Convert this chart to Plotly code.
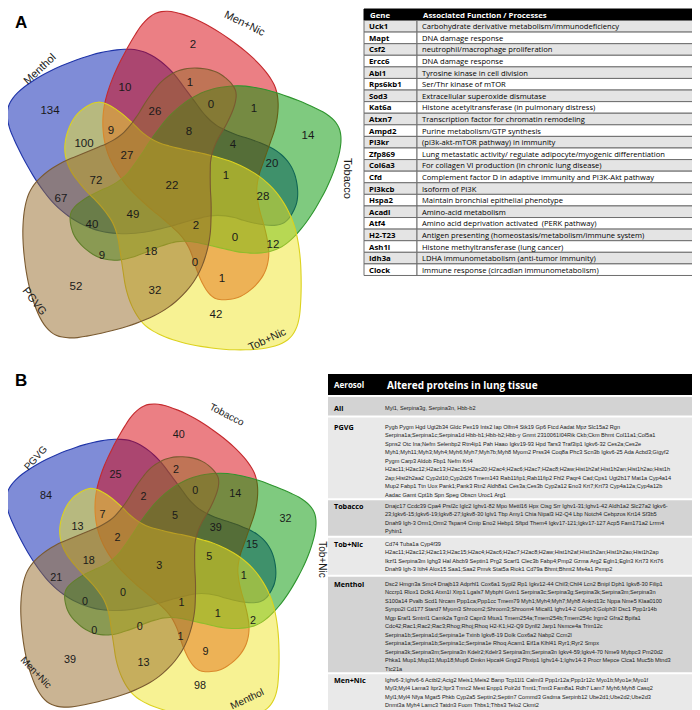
import math
import plotly.graph_objects as go

# ---------------- data ----------------
venn_a_sets = ["Menthol", "Men+Nic", "Tobacco", "Tob+Nic", "PGVG"]
venn_b_sets = ["PGVG", "Tobacco", "Tob+Nic", "Menthol", "Men+Nic"]
# counts per region (same region order for both diagrams)
venn_a_counts = [134, 2, 14, 42, 52, 10, 1, 0, 1, 26, 8, 4, 20, 9, 100, 27, 22, 1, 28,
                 72, 67, 49, 2, 0, 12, 40, 9, 18, 0, 1, 32]
venn_b_counts = [84, 40, 32, 98, 39, 25, 2, 0, 14, 2, 5, 39, 15, 7, 13, 2, 3, 5, 1,
                 18, 21, 0, 1, 1, 2, 0, 0, 0, 1, 9, 13]

genes = ["Uck1", "Mapt", "Csf2", "Ercc6", "Abl1", "Rps6kb1", "Sod3", "Kat6a", "Atxn7",
         "Ampd2", "Pi3kr", "Zfp869", "Col6a3", "Cfd", "Pi3kcb", "Hspa2", "Acadl", "Atf4",
         "H2-T23", "Ash1l", "Idh3a", "Clock"]
gene_functions = [
    "Carbohydrate derivative metabolism/immunodeficiency",
    "DNA damage response",
    "neutrophil/macrophage proliferation",
    "DNA damage response",
    "Tyrosine kinase in cell division",
    "Ser/Thr kinase of mTOR",
    "Extracellular superoxide dismutase",
    "Histone acetyltransferase (in pulmonary distress)",
    "Transcription factor for chromatin remodeling",
    "Purine metabolism/GTP synthesis",
    "(pi3k-akt-mTOR pathway) in immunity",
    "Lung metastatic activity/ regulate adipocyte/myogenic differentiation",
    "For collagen VI production (in chronic lung disease)",
    "Complement factor D in adaptive immunity and PI3K-Akt pathway",
    "Isoform of PI3K",
    "Maintain bronchial epithelial phenotype",
    "Amino-acid metabolism",
    "Amino acid deprivation activated  (PERK pathway)",
    "Antigen presenting (homeostasis/metabolism/immune system)",
    "Histone methyltransferase (lung cancer)",
    "LDHA immunometabolism (anti-tumor immunity)",
    "Immune response (circadian immunometabolism)",
]

aerosols = ["All", "PGVG", "Tobacco", "Tob+Nic", "Menthol", "Men+Nic"]
proteins_all = ["Myl1, Serpina3g, Serpina3n, Hbb-b2"]
proteins_pgvg = [
    "Pygb Pygm Hgd Ugt2b34 Gldc Pex19 Ints2 Iap Olfm4 Stk19 Gp6 Ftcd Aadat Mpz Slc15a2 Rgn",
    "Serpina1a;Serpina1c;Serpina1d Hbb-b1;Hbb-b2;Hbb-y Gnmt 2310061I04Rik Ckb;Ckm Bhmt Col11a1;Col5a1",
    "Spns2 Otc Ina;Nefm Selenbp2 Rtn4ip1 Pah Haao Igkv19-93 Hpd Tars3 Traf3ip1 Igkv6-32 Ces2a;Ces2e",
    "Myh1;Myh11;Myh3;Myh4;Myh6;Myh7;Myh7b;Myh8 Myom2 Prss34 Coq8a Phc3 Scn3b Igkv6-25 Ada Acbd3;Gigyf2",
    "Pygm Carp3 Aldob Fbp1 Nefm Krt4",
    "H2ac11;H2ac12;H2ac13;H2ac15;H2ac20;H2ac4;H2ac6;H2ac7;H2ac8;H2aw;Hist1h2af;Hist1h2an;Hist1h2ao;Hist1h",
    "2ap;Hist2h2aa2 Cyp2d10;Cyp2d26 Tmem143 Rab11fip1;Rab11fip2 Fhl2 Paqr4 Cad;Cps1 Ugt2b17 Mat1a Cyp4a14",
    "Mup2 Fabp1 Ttn Uox Pank1;Pank3 Rtn2 Aldh8a1 Ces3a;Ces3b Cyp2a12 Eno3 Krt7;Krt73 Cyp4a12a;Cyp4a12b",
    "Aadac Gamt Cpt1b Spn Speg Obscn Uroc1 Arg1",
]
proteins_tobacco = [
    "Dnajc17 Ccdc39 Cpa4 Prsl2c Iglc2 Ighv1-82 Mpo Mettl16 Hpx Ctsg Srr Ighv1-31;Ighv1-42 Aldh1a2 Slc27a2 Igkv6-",
    "23;Igkv6-15;Igkv6-19;Igkv8-27;Igkv8-30 Iglv1 Tbp Amy1 Chia Nipal3 H2-Q4 Lbp Notch4 Cebpzos Krt14 Sf3b5",
    "Dnah9 Igh-3 Orm1;Orm2 Tspan4 Cmip Eno2 Hebp1 Sftpd Them4 Igkv17-121;Igkv17-127 Acp5 Fam171a2 Lrrm4",
    "Pyhin1",
]
proteins_tobnic = [
    "Cd74 Tuba1a Cyp4f39",
    "H2ac11;H2ac12;H2ac13;H2ac15;H2ac4;H2ac6;H2ac7;H2ac8;H2aw;Hist1h2af;Hist1h2an;Hist1h2ao;Hist1h2ap",
    "Ikzf1 Serpina3m Ighg3 Hal Abcb9 Septin1 Prg2 Scarf1 Clec3b Fabp4;Pmp2 Gzma Arg2 Egln1;Egln3 Krt73 Krt76",
    "Dnah9 Igh-3 Itih4 Alox15 Saa1;Saa2 Pmvk Stat5a Riok1 Cd79a Bhmt;Bhmt2 Ms4a1 Pxmp2",
]
proteins_menthol = [
    "Dsc2 Hmgn3a Smc4 Dnajb13 Adprhl1 Cox6a1 Sypl2 Rp1 Igkv12-44 Chil3;Chil4 Lcn2 Bnipl Dph1 Igkv8-30 Filip1",
    "Nccrp1 Rlox1 Dclk1 Atxn1l Xirp1 Lgals7 Mybphl Gvin1 Serpina3c;Serpina3g;Serpina3k;Serpina3m;Serpina3n",
    "S100a14 Pvalb Scd1 Nrcam Ppp1ca;Ppp1cc Tmem79 Myh1;Myh4;Myh7;Myh8 Ankrd13c Nppa Nme5 Klaa0100",
    "Synpo2l Cd177 Stard7 Myom3 Shroom2;Shroom3;Shroom4 Micall1 Ighv14-2 Golph3;Golph3l Dsc1 Ppp1r14b",
    "Mgp Eraf1 Smtnl1 Camk2a Tgm3 Capn3 Mtus1 Tmem254a;Tmem254b;Tmem254c Irgm2 Gfra2 Bpifa1",
    "Cdc42;Rac1;Rac2;Rac3;Rhog;Rhoj;Rhoq H2-K1;H2-Q9 Dynll2 Jarp1 Nsmce4a Trim12c",
    "Serpina1b;Serpina1d;Serpina1e Txinb Igkv8-19 Dolk Cox6a2 Nabp2 Ccm2l",
    "Serpina1a;Serpina1b;Serpina1c;Serpina1e Rhoq Acam1 Eif1a Klhl41 Ryr1;Ryr2 Smpx",
    "Serpina3k;Serpina3m;Serpina3n Kdelr2;Kdelr3 Serpina3m;Serpina3n Igkv4-59;Igkv4-70 Nme9 Mybpc3 Pm20d2",
    "Phka1 Mup1;Mup11;Mup18;Mup6 Dmkn Hpcal4 Gngt2 Pbxip1 Ighv14-1;Ighv14-3 Procr Mepce Clca1 Muc5b Mtnd3",
    "Ttc21a",
]
proteins_mennic = [
    "Ighv6-3;Ighv6-6 Actbl2;Actg2 Meis1;Meis2 Banp Tcp11l1 Calml3 Ppp1r12a;Ppp1r12c Myo1b;Myo1e;Myo1f",
    "Myl3;Myl4 Lama3 Itpr2;Itpr3 Tnnc2 Mest Enpp1 Polr2d Tnnt1;Tnnt3 Fam8a1 Rdh7 Lam7 Myh6;Myh8 Casq2",
    "Myl1;Myl4 Nfya Mgat5 Phkb Cyp2a5 Septin2;Septin7 Commd3 Gsdma Serpinb12 Ube2d1;Ube2d2;Ube2d3",
    "Dnmt3a Myh4 Lamc3 Tatdn3 Fuom Thbs1;Thbs3 Telo2 Ckmt2",
]
altered_proteins = [proteins_all, proteins_pgvg, proteins_tobacco,
                    proteins_tobnic, proteins_menthol, proteins_mennic]

# ---------------- layout / geometry (panel A pixel frame) ----------------
REGION_XY = [(42, 103), (185, 37), (300, 128), (208, 307), (68, 279), (117, 80),
             (182, 75), (203, 97), (246, 101), (147, 104), (181, 124), (225, 137),
             (264, 156), (103, 123), (76, 136), (119, 148), (164, 178), (218, 168),
             (255, 189), (88, 173), (53, 191), (125, 207), (188, 218), (227, 230),
             (265, 237), (84, 217), (94, 248), (143, 244), (187, 255), (214, 271),
             (147, 283)]
LABEL_XY = [(31, 61), (237, 15), (340, 170), (259, 331), (27, 293)]
LABEL_ANG_A = [-43, 26, 90, -25, 52]
LABEL_ANG_B = [-48, 27, 90, -25, 46]

# outline of one set (the bottom-right one); the others are rotated copies
BASE_OUTLINE = [(96.7, 94.3), (116.7, 106.7), (143.3, 133.3), (173.3, 141.7), (200, 146.7),
                (233, 156.7), (263.3, 176.7), (283.3, 206.7), (291.7, 240), (293.3, 283.3),
                (290, 320), (273.3, 336.7), (233.3, 341.7), (186.7, 336.7), (153.3, 326.7),
                (133.3, 313.3), (120, 286.7), (115, 253.3), (110, 220), (96.7, 200),
                (76.7, 180), (61.7, 160), (57.3, 136.7), (66.7, 110), (83.3, 96.7)]
CENTER = (168.0, 178.0)
ROT = [216, 144, 72, 0, 288]  # blue, red, green, yellow, brown
# bounding boxes of each outline in the reference (x0, x1, y0, y1)
BBOX = [(2, 287, 37, 230), (92, 273, 5, 290), (62, 333, 78, 252),
        (57, 293, 94, 342), (15, 228, 60, 330)]
FILLS = ["rgba(0,25,175,0.5)", "rgba(215,0,10,0.5)", "rgba(0,150,0,0.5)",
         "rgba(240,230,40,0.5)", "rgba(150,105,40,0.5)"]
LINES = ["#1f34a8", "#c42a2e", "#2e952e", "#dcd21e", "#7a5a30"]

PANEL_A = (1.0, 0.0, 0.0)      # scale, dx, dy
PANEL_B = (0.928, -1.0, 393.0)


def chaikin(pts, it=2):
    for _ in range(it):
        n = len(pts)
        out = []
        for i in range(n):
            a, b = pts[i], pts[(i + 1) % n]
            out.append((0.75 * a[0] + 0.25 * b[0], 0.75 * a[1] + 0.25 * b[1]))
            out.append((0.25 * a[0] + 0.75 * b[0], 0.25 * a[1] + 0.75 * b[1]))
        pts = out
    return pts


SMOOTH_BASE = chaikin(BASE_OUTLINE, 2)


def tf(p, panel):
    s, dx, dy = panel
    return (p[0] * s + dx, p[1] * s + dy)


def rot_rel(pts, ang):
    a = math.radians(ang)
    c, s = math.cos(a), math.sin(a)
    cx, cy = CENTER
    out = []
    for x, y in pts:
        u, v = x - cx, y - cy
        out.append((u * c + v * s, -u * s + v * c))
    return out


def fitted_outline(k):
    X0, X1, Y0, Y1 = BBOX[k]
    W, H = X1 - X0, Y1 - Y0
    best = None
    for d10 in range(-80, 81, 5):
        rel = rot_rel(SMOOTH_BASE, ROT[k] + d10 / 10.0)
        xs = [p[0] for p in rel]
        ys = [p[1] for p in rel]
        w, h = max(xs) - min(xs), max(ys) - min(ys)
        s = (w * W + h * H) / (w * w + h * h)
        err = (s * w - W) ** 2 + (s * h - H) ** 2 + 0.03 * d10 ** 2 / 100
        if best is None or err < best[0]:
            best = (err, rel, s)
    _, rel, s = best
    xs = [p[0] * s for p in rel]
    ys = [p[1] * s for p in rel]
    ox = (X0 + X1) / 2 - (max(xs) + min(xs)) / 2
    oy = (Y0 + Y1) / 2 - (max(ys) + min(ys)) / 2
    return [(x + ox, y + oy) for x, y in zip(xs, ys)]


OUTLINES = [fitted_outline(k) for k in range(5)]


def smooth_path(pts):
    n = len(pts)
    d = "M %.2f,%.2f" % pts[0]
    for i in range(n):
        p0, p1, p2, p3 = pts[(i - 1) % n], pts[i], pts[(i + 1) % n], pts[(i + 2) % n]
        c1 = (p1[0] + (p2[0] - p0[0]) / 6, p1[1] + (p2[1] - p0[1]) / 6)
        c2 = (p2[0] - (p3[0] - p1[0]) / 6, p2[1] - (p3[1] - p1[1]) / 6)
        d += " C %.2f,%.2f %.2f,%.2f %.2f,%.2f" % (c1 + c2 + p2)
    return d + " Z"


fig = go.Figure()
shapes = []
annotations = []

NUM_FONT = "Liberation Sans, Arial, sans-serif"
TAB_FONT = "Open Sans, Noto Sans, sans-serif"


def add_venn(panel, counts, names, angles, numsize, labsize, label_shift):
    for k in range(5):
        pts = [tf(p, panel) for p in OUTLINES[k]]
        shapes.append(dict(type="path", path=smooth_path(pts), xref="x", yref="y",
                           fillcolor=FILLS[k], line=dict(color=LINES[k], width=1.1),
                           layer="below"))
    xy = [tf(p, panel) for p in REGION_XY]
    fig.add_trace(go.Scatter(x=[p[0] for p in xy], y=[p[1] for p in xy],
                             text=[str(c) for c in counts], mode="text",
                             textfont=dict(family=NUM_FONT, size=numsize, color="#1a1a1a"),
                             hoverinfo="skip", showlegend=False))
    for k in range(5):
        x, y = tf(LABEL_XY[k], panel)
        x += label_shift[k][0]
        y += label_shift[k][1]
        annotations.append(dict(x=x, y=y, xref="x", yref="y", text=names[k],
                                showarrow=False, textangle=angles[k], borderpad=0,
                                font=dict(family=NUM_FONT, size=labsize, color="#1a1a1a")))


add_venn(PANEL_A, venn_a_counts, venn_a_sets, LABEL_ANG_A, 11.5, 11,
         [(0, 0)] * 5)
add_venn(PANEL_B, venn_b_counts, venn_b_sets, LABEL_ANG_B, 10.8, 10,
         [(0, 0), (0, 0), (0, 0), (0, -10), (4, 0)])

annotations.append(dict(x=13, y=14, xref="x", yref="y", text="<b>A</b>", showarrow=False,
                        font=dict(family=NUM_FONT, size=17, color="black")))
annotations.append(dict(x=13, y=372, xref="x", yref="y", text="<b>B</b>", showarrow=False,
                        font=dict(family=NUM_FONT, size=17, color="black")))

# ---------------- table A ----------------
TA_X = (356, 409, 698)
TA_HEAD = (1, 12.5)
TA_PITCH = 11.59
GRID = "#6e6e6e"
shapes.append(dict(type="rect", xref="x", yref="y", x0=TA_X[0], x1=TA_X[2],
                   y0=TA_HEAD[0], y1=TA_HEAD[1], fillcolor="black",
                   line=dict(color="black", width=1)))
annotations.append(dict(x=TA_X[0] + 4, y=(TA_HEAD[0] + TA_HEAD[1]) / 2, xref="x", yref="y",
                        text="<b>Gene</b>", showarrow=False, xanchor="left",
                        font=dict(family=TAB_FONT, size=7.8, color="white")))
annotations.append(dict(x=TA_X[1] + 4, y=(TA_HEAD[0] + TA_HEAD[1]) / 2, xref="x", yref="y",
                        text="<b>Associated Function / Processes</b>", showarrow=False,
                        xanchor="left", font=dict(family=TAB_FONT, size=7.8, color="white")))
for i, (g, f) in enumerate(zip(genes, gene_functions)):
    y0 = TA_HEAD[1] + i * TA_PITCH
    y1 = y0 + TA_PITCH
    fill = "#e4e4e4" if i % 2 == 0 else "white"
    for xa, xb in ((TA_X[0], TA_X[1]), (TA_X[1], TA_X[2])):
        shapes.append(dict(type="rect", xref="x", yref="y", x0=xa, x1=xb, y0=y0, y1=y1,
                           fillcolor=fill, line=dict(color=GRID, width=1)))
    ym = (y0 + y1) / 2
    annotations.append(dict(x=TA_X[0] + 3, y=ym, xref="x", yref="y", text="<b>%s</b>" % g,
                            showarrow=False, xanchor="left",
                            font=dict(family=TAB_FONT, size=7.8, color="black")))
    annotations.append(dict(x=TA_X[1] + 3, y=ym, xref="x", yref="y", text=f,
                            showarrow=False, xanchor="left",
                            font=dict(family=TAB_FONT, size=7.6, color="black")))

# ---------------- table B ----------------
TB_X = (320, 372, 697)
TB_HEAD = (366, 387)
TB_FIRST = [400, 419, 498, 536, 576, 672]
TB_PITCH = 8.45
TB_FILLS = ["#d3d3d3", "#e9e9e9", "#d3d3d3", "#e9e9e9", "#d3d3d3", "#e9e9e9"]
shapes.append(dict(type="rect", xref="x", yref="y", x0=TB_X[0], x1=TB_X[2],
                   y0=TB_HEAD[0], y1=TB_HEAD[1], fillcolor="black", line=dict(width=0)))
annotations.append(dict(x=TB_X[0] + 4, y=(TB_HEAD[0] + TB_HEAD[1]) / 2, xref="x", yref="y",
                        text="<b>Aerosol</b>", showarrow=False, xanchor="left",
                        font=dict(family=TAB_FONT, size=8, color="white")))
annotations.append(dict(x=TB_X[1] + 5, y=(TB_HEAD[0] + TB_HEAD[1]) / 2, xref="x", yref="y",
                        text="<b>Altered proteins in lung tissue</b>", showarrow=False,
                        xanchor="left", font=dict(family=TAB_FONT, size=10, color="white")))
n_rows = len(altered_proteins)
tops = [TB_HEAD[1] + 2] + [TB_FIRST[i] - 7.5 for i in range(1, n_rows)]
bots = [TB_FIRST[i] + (len(altered_proteins[i]) - 1) * TB_PITCH + 5.5 for i in range(n_rows)]
for i in range(n_rows):
    y0 = tops[i] if i == 0 else (bots[i - 1] + tops[i]) / 2 + 1
    y1 = bots[i] if i == n_rows - 1 else (bots[i] + tops[i + 1]) / 2 - 1
    shapes.append(dict(type="rect", xref="x", yref="y", x0=TB_X[0], x1=TB_X[2],
                       y0=y0, y1=y1, fillcolor=TB_FILLS[i], line=dict(width=0),
                       layer="below"))
    annotations.append(dict(x=TB_X[0] + 4, y=TB_FIRST[i], xref="x", yref="y",
                            text="<b>%s</b>" % aerosols[i], showarrow=False, xanchor="left",
                            font=dict(family=TAB_FONT, size=7.2, color="black")))
    for j, line in enumerate(altered_proteins[i]):
        annotations.append(dict(x=TB_X[1] + 4, y=TB_FIRST[i] + j * TB_PITCH, xref="x",
                                yref="y", text=line, showarrow=False, xanchor="left",
                                font=dict(family=NUM_FONT, size=5.6, color="#1a1a1a"),
                                borderpad=0))

fig.update_layout(
    width=700, height=710, margin=dict(l=0, r=0, t=0, b=0),
    paper_bgcolor="white", plot_bgcolor="white",
    xaxis=dict(range=[0, 700], visible=False, fixedrange=True),
    yaxis=dict(range=[710, 0], visible=False, fixedrange=True),
    shapes=shapes, annotations=annotations, showlegend=False,
)
fig.write_html("out.html")
